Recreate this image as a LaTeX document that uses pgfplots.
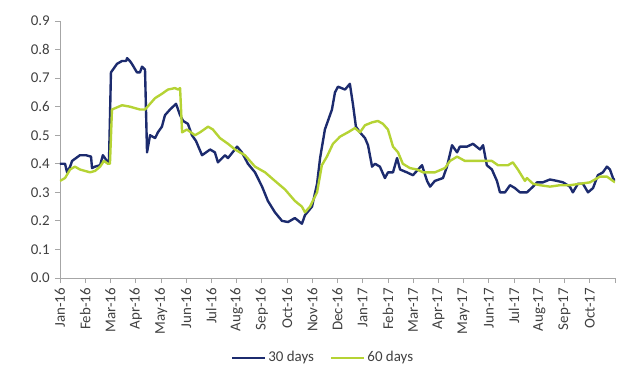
\documentclass[border=0pt]{standalone}
\usepackage{pgfplots}
\pgfplotsset{compat=1.18}
\usepackage{fontspec}
\setmainfont{Carlito}
\definecolor{navy}{HTML}{1C2B6E}
\definecolor{lime}{HTML}{B5D334}
\definecolor{txt}{HTML}{404040}
\definecolor{axc}{HTML}{A6A6A6}
\begin{document}
\fontsize{15}{18}\selectfont
\begin{tikzpicture}
\useasboundingbox (-60bp,-101bp) rectangle (580bp,278bp);
\begin{axis}[
  at={(0,0)}, anchor=south west,
  scale only axis, width=555bp, height=257bp,
  xmin=0, xmax=22, ymin=0, ymax=0.9,
  axis x line*=bottom, axis y line*=left,
  axis line style={axc, line width=0.8pt, -},
  every tick/.style={axc, line width=0.8pt},
  tick align=outside, major tick length=5bp,
  xtick={0,1,...,22},
  xticklabels={Jan-16,Feb-16,Mar-16,Apr-16,May-16,Jun-16,Jul-16,Aug-16,Sep-16,Oct-16,Nov-16,Dec-16,Jan-17,Feb-17,Mar-17,Apr-17,May-17,Jun-17,Jul-17,Aug-17,Sep-17,Oct-17,},
  x tick label style={rotate=90, anchor=east, font=\fontsize{15}{18}\selectfont, text=txt},
  ytick={0,0.1,...,0.9},
  yticklabel style={/pgf/number format/fixed, /pgf/number format/fixed zerofill, /pgf/number format/precision=1, font=\fontsize{15}{18}\selectfont, text=txt},
  /pgf/number format/assume math mode=true,
  legend columns=2,
  legend style={at={(axis description cs:0.474,-0.311)}, anchor=center, draw=none, fill=none, font=\fontsize{15}{18}\selectfont, text=txt, /tikz/every even column/.append style={column sep=14bp}},
  legend image code/.code={\draw[#1] (0bp,0bp) -- (33bp,0bp);},
]
\addplot[navy, line width=2.4pt, line join=round] coordinates {
(0,0.40) (0.20,0.40) (0.28,0.37) (0.40,0.39) (0.48,0.41) (0.79,0.43) (1.03,0.43) (1.23,0.425)
(1.27,0.385) (1.39,0.39) (1.59,0.395) (1.70,0.43) (1.86,0.41) (1.94,0.40) (2.02,0.72) (2.26,0.75)
(2.46,0.76) (2.62,0.76) (2.66,0.77) (2.77,0.76) (2.85,0.75) (3.05,0.72) (3.17,0.72) (3.25,0.74)
(3.37,0.73) (3.45,0.44) (3.57,0.50) (3.77,0.49) (3.88,0.51) (4.04,0.53) (4.16,0.57) (4.36,0.59)
(4.60,0.61) (4.76,0.57) (4.88,0.55) (5.07,0.54) (5.23,0.50) (5.39,0.48) (5.63,0.43) (5.95,0.45)
(6.14,0.44) (6.26,0.405) (6.54,0.43) (6.66,0.42) (7.02,0.46) (7.21,0.44) (7.45,0.40) (7.73,0.37)
(8.01,0.32) (8.24,0.27) (8.52,0.23) (8.80,0.20) (9.04,0.196) (9.31,0.21) (9.59,0.19) (9.71,0.22)
(9.99,0.25) (10.19,0.33) (10.31,0.42) (10.50,0.52) (10.78,0.59) (10.90,0.65) (11.02,0.67) (11.30,0.66)
(11.49,0.68) (11.61,0.61) (11.73,0.53) (11.89,0.51) (12.09,0.49) (12.21,0.465) (12.37,0.39) (12.49,0.40)
(12.68,0.39) (12.88,0.35) (13.00,0.37) (13.20,0.37) (13.36,0.42) (13.48,0.38) (13.75,0.37) (13.99,0.36)
(14.35,0.395) (14.55,0.34) (14.67,0.32) (14.86,0.34) (15.18,0.35) (15.34,0.39) (15.54,0.465) (15.74,0.44)
(15.85,0.46) (16.13,0.46) (16.37,0.47) (16.65,0.45) (16.77,0.465) (16.92,0.395) (17.12,0.38) (17.32,0.34)
(17.44,0.30) (17.64,0.30) (17.84,0.325) (18.03,0.315) (18.23,0.30) (18.51,0.30) (18.75,0.32) (18.91,0.335)
(19.14,0.335) (19.42,0.345) (19.70,0.34) (19.94,0.335) (20.21,0.32) (20.33,0.30) (20.53,0.33) (20.73,0.33)
(20.93,0.30) (21.13,0.315) (21.32,0.36) (21.52,0.37) (21.68,0.39) (21.80,0.38) (21.92,0.35) (22.00,0.34)
};
\addlegendentry{30 days}
\addplot[lime, line width=2.4pt, line join=round] coordinates {
(0,0.34) (0.20,0.35) (0.40,0.38) (0.59,0.39) (0.79,0.38) (1.19,0.37) (1.39,0.375) (1.59,0.39)
(1.74,0.41) (1.90,0.40) (1.98,0.40) (2.06,0.59) (2.46,0.605) (2.77,0.60) (3.17,0.59) (3.37,0.59)
(3.57,0.61) (3.77,0.63) (4.04,0.645) (4.28,0.66) (4.56,0.665) (4.68,0.66) (4.76,0.665) (4.84,0.51)
(5.03,0.52) (5.35,0.50) (5.55,0.51) (5.87,0.53) (6.06,0.52) (6.34,0.49) (6.66,0.47) (6.94,0.45)
(7.13,0.44) (7.33,0.43) (7.53,0.41) (7.73,0.39) (8.13,0.37) (8.52,0.34) (8.92,0.31) (9.31,0.27)
(9.59,0.25) (9.71,0.23) (9.91,0.25) (10.19,0.30) (10.38,0.395) (10.58,0.425) (10.82,0.47) (11.10,0.495)
(11.41,0.51) (11.69,0.525) (11.89,0.51) (12.09,0.535) (12.37,0.545) (12.60,0.55) (12.80,0.54) (13.00,0.52)
(13.20,0.46) (13.40,0.44) (13.59,0.40) (13.87,0.385) (14.15,0.38) (14.39,0.37) (14.59,0.37) (14.86,0.37)
(15.26,0.385) (15.46,0.41) (15.74,0.425) (16.05,0.41) (16.45,0.41) (16.84,0.41) (17.12,0.41) (17.36,0.395)
(17.76,0.395) (17.95,0.405) (18.15,0.38) (18.43,0.34) (18.51,0.35) (18.75,0.33) (19.02,0.325) (19.42,0.32)
(19.82,0.325) (20.21,0.325) (20.61,0.33) (21.01,0.335) (21.40,0.355) (21.68,0.355) (22.00,0.335)
};
\addlegendentry{60 days}
\end{axis}
\end{tikzpicture}
\end{document}
